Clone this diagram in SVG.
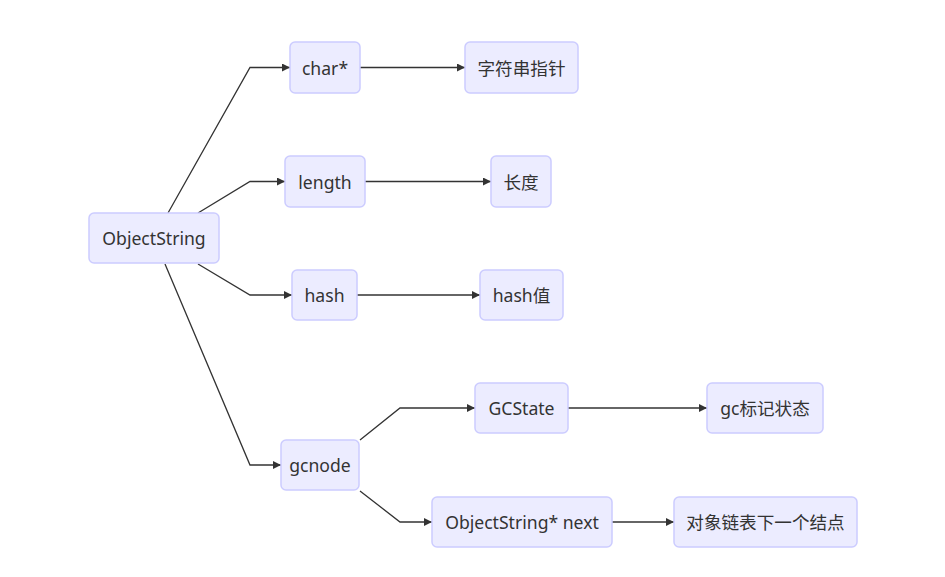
<svg xmlns="http://www.w3.org/2000/svg" width="945" height="577" viewBox="0 0 945 577">
<style>
.node rect{fill:#ECECFF;stroke:#CCCCFF;stroke-width:1.5}
.node text{font-family:"Noto Sans","Noto Sans CJK SC",sans-serif;font-size:17.6px;fill:#333;text-anchor:middle;dominant-baseline:central}
.edge{fill:none;stroke:#333;stroke-width:1.3;marker-end:url(#arr)}
</style>
<defs>
<marker id="arr" viewBox="0 0 10 10" refX="10" refY="5" markerWidth="8" markerHeight="8" markerUnits="userSpaceOnUse" orient="auto">
<path d="M0,0L10,5L0,10z" fill="#333"/>
</marker>
</defs>
<rect width="945" height="577" fill="#fff"/>
<g id="connectors">
<path class="edge" d="M168,213L250,67.5L290,67.5"/>
<path class="edge" d="M198,213L250,181.5L285,181.5"/>
<path class="edge" d="M198,264L250,295L292,295"/>
<path class="edge" d="M165,264L250,465L281,465"/>
<path class="edge" d="M360,67.5L465,67.5"/>
<path class="edge" d="M365,181.5L491,181.5"/>
<path class="edge" d="M357,295L480,295"/>
<path class="edge" d="M360,440L400,408L475,408"/>
<path class="edge" d="M360,491L400,522L432,522"/>
<path class="edge" d="M568,408L707,408"/>
<path class="edge" d="M612,522L674,522"/>
</g>
<g id="ObjectString" class="node"><rect x="89" y="213" width="130" height="50" rx="5"/><text x="154" y="238">ObjectString</text></g>
<g id="char" class="node"><rect x="290" y="42" width="70" height="51" rx="5"/><text x="325" y="67.5">char*</text></g>
<g id="strptr" class="node"><rect x="465" y="42" width="113" height="51" rx="5"/><text x="521.5" y="67.5">字符串指针</text></g>
<g id="length" class="node"><rect x="285" y="156" width="80" height="51" rx="5"/><text x="325" y="181.5">length</text></g>
<g id="len" class="node"><rect x="491" y="156" width="60" height="51" rx="5"/><text x="521" y="181.5">长度</text></g>
<g id="hash" class="node"><rect x="292" y="270" width="65" height="50" rx="5"/><text x="324.5" y="295">hash</text></g>
<g id="hashval" class="node"><rect x="480" y="270" width="83" height="50" rx="5"/><text x="521.5" y="295">hash值</text></g>
<g id="gcnode" class="node"><rect x="281" y="440" width="78" height="50" rx="5"/><text x="320" y="465">gcnode</text></g>
<g id="GCState" class="node"><rect x="475" y="383" width="93" height="50" rx="5"/><text x="521.5" y="408">GCState</text></g>
<g id="gcmark" class="node"><rect x="707" y="383" width="116" height="50" rx="5"/><text x="765" y="408">gc标记状态</text></g>
<g id="next" class="node"><rect x="432" y="497" width="180" height="50" rx="5"/><text x="522" y="522">ObjectString* next</text></g>
<g id="nextnode" class="node"><rect x="674" y="497" width="183" height="50" rx="5"/><text x="765.5" y="522">对象链表下一个结点</text></g>
</svg>
